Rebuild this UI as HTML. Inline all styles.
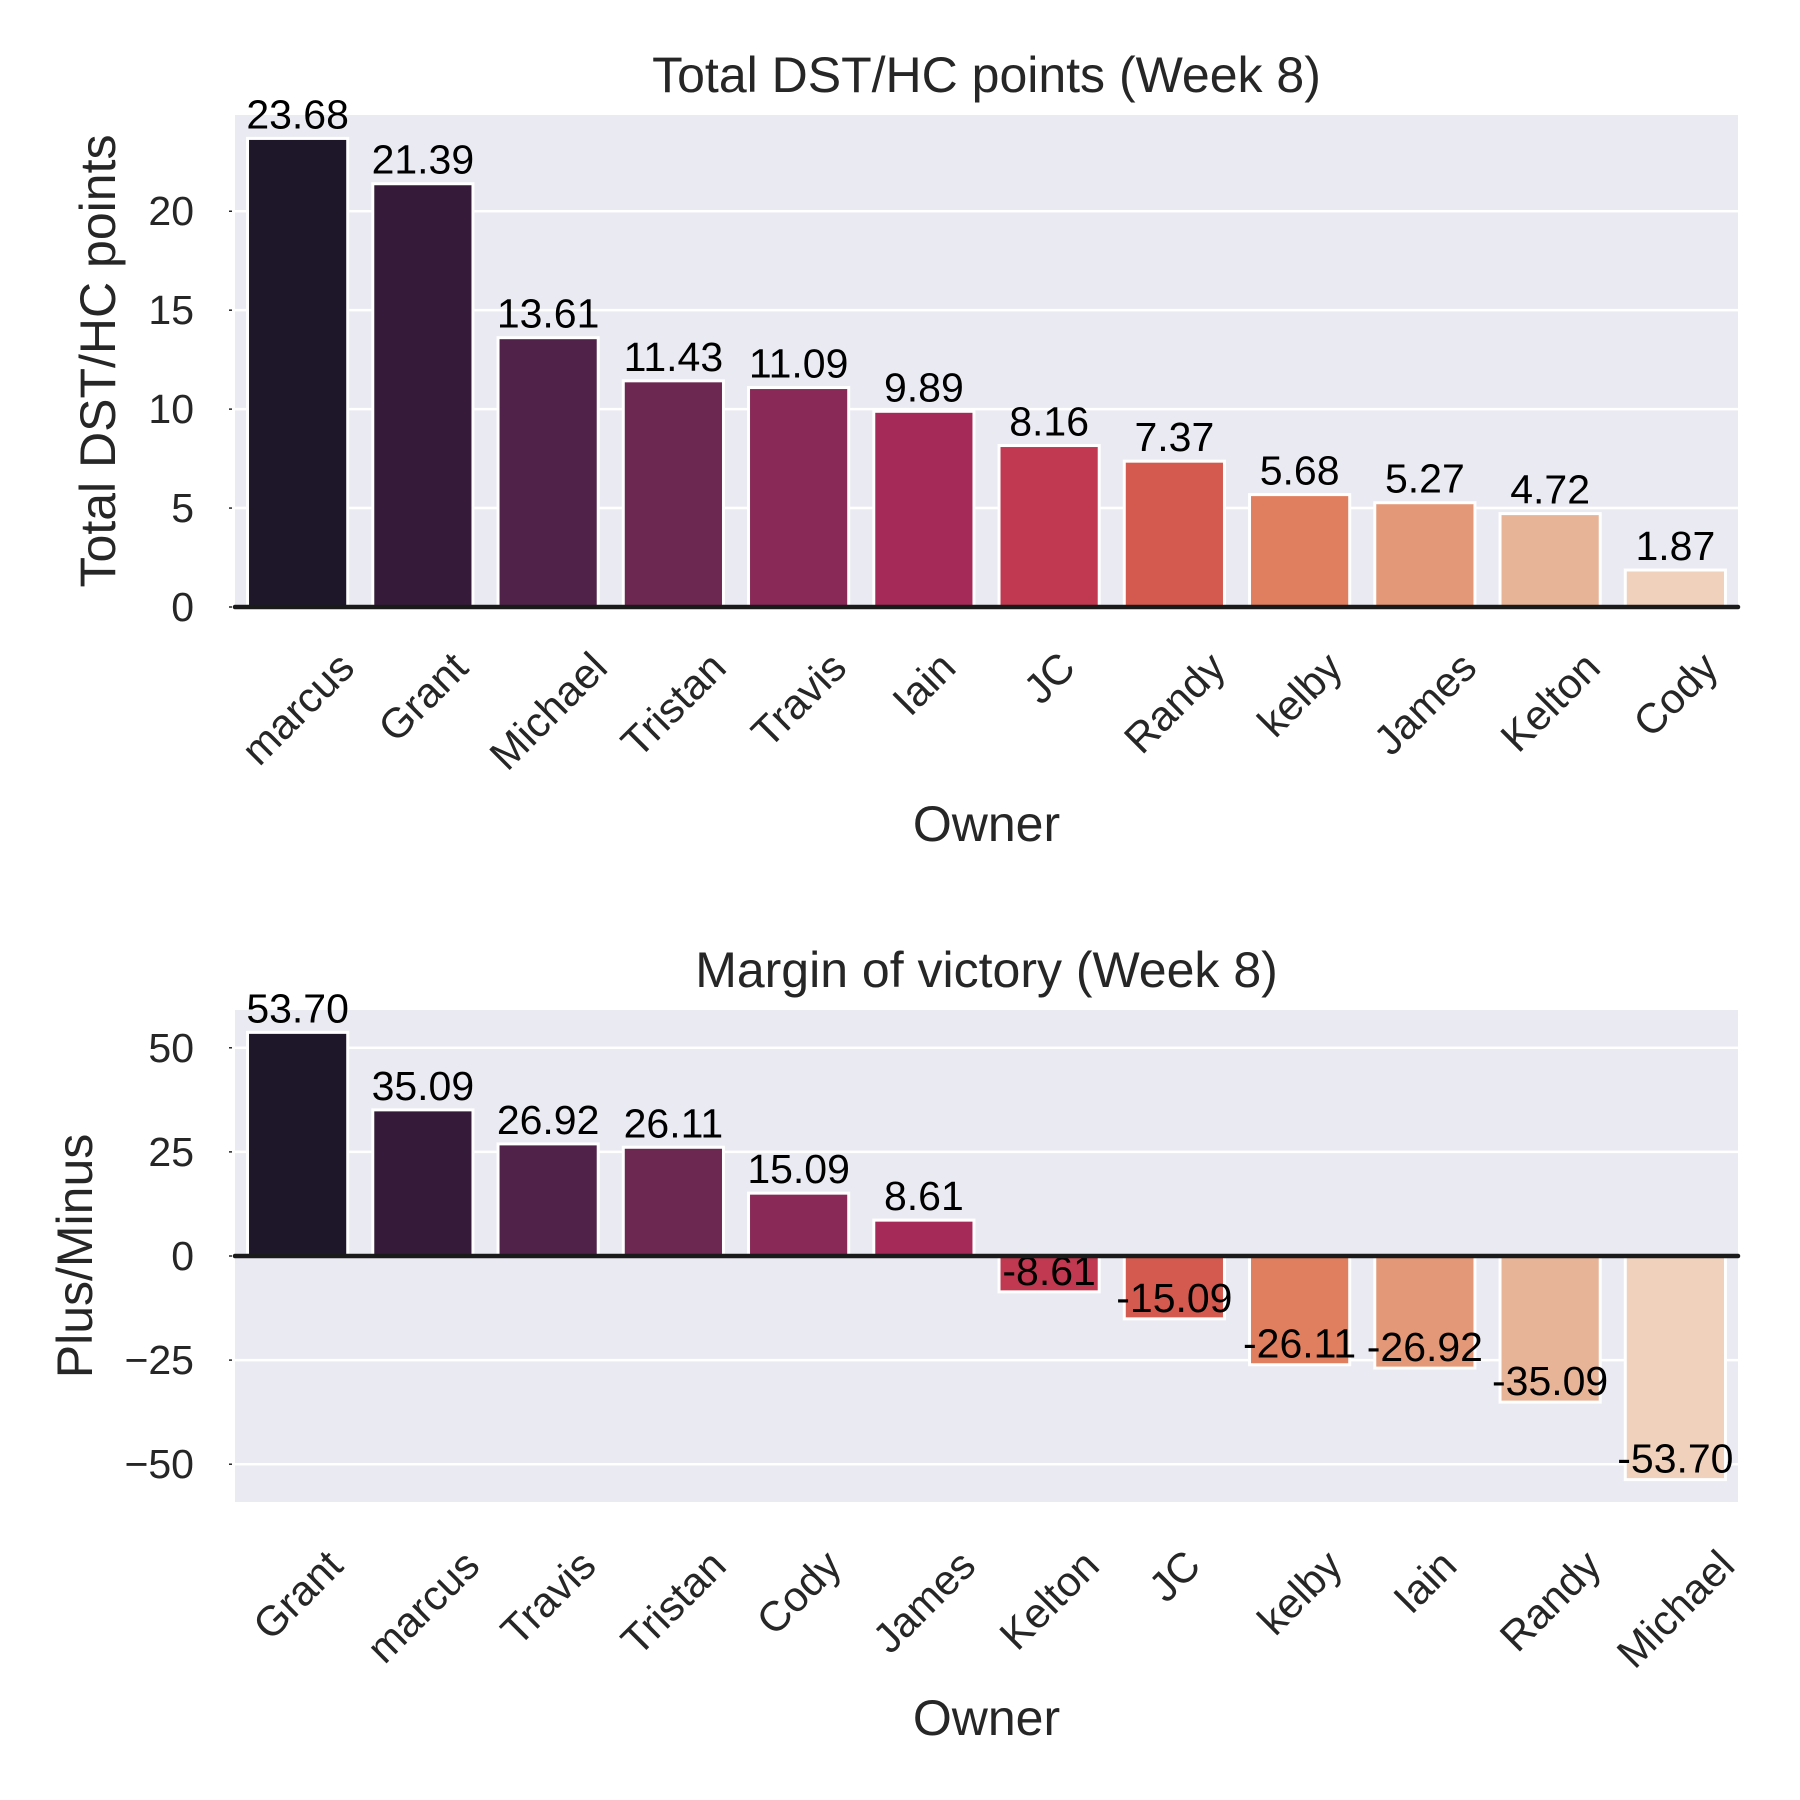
<!DOCTYPE html>
<html><head><meta charset="utf-8"><style>
html,body{margin:0;padding:0;background:#fff;}
svg{display:block;font-family:"Liberation Sans",Arial,sans-serif;}
</style></head><body>
<svg id="chart" width="1800" height="1800" viewBox="0 0 1800 1800"></svg>
<script>
const topCategories = ["marcus","Grant","Michael","Tristan","Travis","Iain","JC","Randy","kelby","James","Kelton","Cody"];
const topValues = [23.68,21.39,13.61,11.43,11.09,9.89,8.16,7.37,5.68,5.27,4.72,1.87];
const topTicks = [0,5,10,15,20];
const botCategories = ["Grant","marcus","Travis","Tristan","Cody","James","Kelton","JC","kelby","Iain","Randy","Michael"];
const botValues = [53.70,35.09,26.92,26.11,15.09,8.61,-8.61,-15.09,-26.11,-26.92,-35.09,-53.70];
const botTicks = [-50,-25,0,25,50];
const palette = ["#1e1729","#351b39","#50224a","#6c2850","#882958","#a52a58","#c03950","#d45a50","#e07e60","#e39877","#e8b498","#efd1bc"];

const NS="http://www.w3.org/2000/svg";
const svg=document.getElementById('chart');
function mk(tag,attrs,parent){const e=document.createElementNS(NS,tag);for(const k in attrs)e.setAttribute(k,attrs[k]);(parent||svg).appendChild(e);return e;}

function drawPanel(cfg){
  const {left,right,top,bottom,ymin,ymax,cats,vals,ticks,title,ylabel,ylabelX,titleY,tickTop,xlabelY,prefix}=cfg;
  const g=mk('g',{});
  
  
  const y=v=>bottom-(v-ymin)/(ymax-ymin)*(bottom-top);
  const n=cats.length;const step=(right-left)/n;
  const x=i=>left+(i+0.5)*step;
  const bg=mk('rect',{x:left,y:top,width:right-left,height:bottom-top,fill:'#eaeaf2'},g);
  
  
  ticks.forEach(t=>{
    const gl=mk('line',{x1:left,x2:right,y1:y(t),y2:y(t),stroke:'#fff','stroke-width':2.5},g);
    
    
    const tm=mk('line',{x1:left-6,x2:left-3,y1:y(t),y2:y(t),stroke:'#262626','stroke-width':1.5},g);
    
    
    const tl=mk('text',{x:left-41,y:y(t),'text-anchor':'end','dominant-baseline':'central','font-size':41,fill:'#262626'},g);
    tl.textContent=t<0?'\u2212'+Math.abs(t):String(t);
    
    
  });
  const bw=step*0.8;
  vals.forEach((v,i)=>{
    const y0=y(0),y1=y(v);
    const r=mk('rect',{x:x(i)-bw/2,y:Math.min(y0,y1),width:bw,height:Math.abs(y1-y0),fill:palette[i],stroke:'#fff','stroke-width':3},g);
    
    
    const t=mk('text',{x:x(i),y:v>=0?y1-10:y1-7,'text-anchor':'middle','font-size':41,fill:'#000'},g);
    t.textContent=v.toFixed(2);
    
    
    const lab=mk('text',{'text-anchor':'middle','dominant-baseline':'central','font-size':42,fill:'#262626'},g);
    lab.textContent=cats[i];
    
    
    const L=lab.getComputedTextLength();
    const cy=tickTop+(L+36)*0.7071/2;
    lab.setAttribute('transform','translate('+x(i)+','+cy+') rotate(-45)');
  });
  const zl=mk('line',{x1:left,x2:right,y1:y(0),y2:y(0),stroke:'#1a1a1a','stroke-width':4.5,'stroke-linecap':'round'},g);
  
  
  const ti=mk('text',{x:(left+right)/2,y:titleY,'text-anchor':'middle','dominant-baseline':'central','font-size':50,fill:'#262626'},g);
  ti.textContent=title;
  
  
  const xl=mk('text',{x:(left+right)/2,y:xlabelY,'text-anchor':'middle','dominant-baseline':'central','font-size':50,fill:'#262626'},g);
  xl.textContent='Owner';
  
  
  const yc=(top+bottom)/2;
  const yl=mk('text',{x:0,y:0,'text-anchor':'middle','dominant-baseline':'central','font-size':50,fill:'#262626',transform:'translate('+ylabelX+','+yc+') rotate(-90)'},g);
  yl.textContent=ylabel;
  
  
}

drawPanel({left:235,right:1738,top:115,bottom:607,ymin:0,ymax:Math.max(...topValues)*1.05,
  cats:topCategories,vals:topValues,ticks:topTicks,title:'Total DST/HC points (Week 8)',
  ylabel:'Total DST/HC points',ylabelX:98,titleY:75,tickTop:647,xlabelY:824,prefix:'dst'});
const bmax=Math.max(...botValues.map(Math.abs));
drawPanel({left:235,right:1738,top:1010,bottom:1502,ymin:-bmax*1.1,ymax:bmax*1.1,
  cats:botCategories,vals:botValues,ticks:botTicks,title:'Margin of victory (Week 8)',
  ylabel:'Plus/Minus',ylabelX:75,titleY:970,tickTop:1545,xlabelY:1718,prefix:'margin'});
</script>
</body></html>
